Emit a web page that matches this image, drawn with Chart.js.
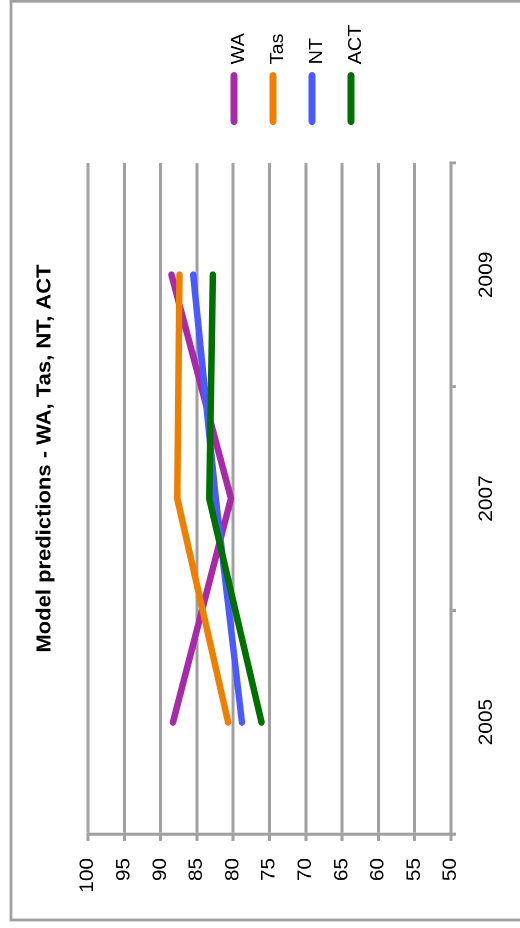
<!DOCTYPE html>
<html><head><meta charset="utf-8">
<script src="https://cdn.jsdelivr.net/npm/chart.js@4.4.1/dist/chart.umd.min.js"></script>
<style>
html,body{margin:0;padding:0;background:#fff;}
#stage{position:relative;width:520px;height:928px;overflow:hidden;background:#fff;}
#wrap{position:absolute;left:0;top:0;width:844px;height:520px;transform-origin:0 0;transform:translate(0,928px) rotate(-90deg) scaleX(1.09953);}
</style></head><body>
<div id="stage"><div id="wrap"><canvas id="c" width="844" height="520" style="width:844px;height:520px"></canvas></div></div>
<script>
// ---- data ----
const title = 'Model predictions - WA, Tas, NT, ACT';
const categories = ['2005', '2007', '2009'];
const seriesNames = ['WA', 'Tas', 'NT', 'ACT'];
const WA  = [88.3, 80.3, 88.5];
const Tas = [80.7, 87.7, 87.4];
const NT  = [78.8, 82.4, 85.5];
const ACT = [76.1, 83.3, 82.8];
const yMin = 50, yMax = 100, yStep = 5;

// ---- style ----
const colors = ['#A82AA8', '#EE8000', '#4A5AFF', '#007000'];
const gridColor = '#A0A0A0';
const FONT = '"Liberation Sans", Arial, Helvetica, sans-serif';
const seriesValues = [WA, Tas, NT, ACT];

const decor = {
  id: 'decor',
  afterDraw(chart) {
    const ctx = chart.ctx;
    ctx.save();
    ctx.strokeStyle = gridColor;
    ctx.lineWidth = 2.7;
    ctx.beginPath();
    ctx.moveTo(7.3, 600); ctx.lineTo(7.3, 11); ctx.lineTo(843, 11); ctx.lineTo(843, 600);
    ctx.stroke();
    ctx.fillStyle = '#000';
    ctx.font = 'bold 20px ' + FONT;
    ctx.textAlign = 'center';
    ctx.textBaseline = 'alphabetic';
    ctx.fillText(title, 427, 50.5);
    chart.data.datasets.forEach((ds, i) => {
      const v = 234 + 39 * i;
      ctx.strokeStyle = ds.borderColor;
      ctx.lineWidth = 7;
      ctx.lineCap = 'round';
      ctx.beginPath();
      ctx.moveTo(733.8, v); ctx.lineTo(775.0, v);
      ctx.stroke();
      ctx.fillStyle = '#000';
      ctx.font = '18px ' + FONT;
      ctx.textAlign = 'left';
      ctx.fillText(ds.label, 785.5, v + 9.8);
    });
    ctx.restore();
  }
};

function build() {
  new Chart(document.getElementById('c'), {
    type: 'line',
    data: {
      labels: categories,
      datasets: seriesNames.map((name, i) => ({
        label: name,
        data: seriesValues[i],
        borderColor: colors[i],
        backgroundColor: colors[i],
        borderWidth: 6.5,
        borderCapStyle: 'round',
        borderJoinStyle: 'miter',
        pointRadius: 0,
        tension: 0,
        fill: false,
        order: seriesNames.length - i
      }))
    },
    options: {
      responsive: false,
      devicePixelRatio: 2,
      animation: false,
      layout: { padding: { left: 0, top: 88, right: 148.3, bottom: 0 } },
      plugins: { legend: { display: false }, title: { display: false }, tooltip: { enabled: false } },
      scales: {
        x: {
          type: 'category',
          offset: true,
          afterFit: s => { s.height = 69; },
          grid: { offset: true, drawOnChartArea: false, drawTicks: true, tickLength: 5, lineWidth: 2.7, color: gridColor },
          border: { display: true, color: gridColor, width: 3 },
          ticks: { color: '#000', font: { family: FONT, size: 19 }, padding: 19.5, maxRotation: 0 }
        },
        y: {
          min: yMin, max: yMax,
          afterFit: s => { s.width = 85.5; },
          grid: { color: gridColor, lineWidth: 3, drawTicks: true, tickLength: 6.4 },
          border: { display: true, color: gridColor, width: 2.7 },
          ticks: { stepSize: yStep, color: '#000', font: { family: FONT, size: 19 }, padding: 15.4 }
        }
      }
    },
    plugins: [decor]
  });
}

Promise.all([
  document.fonts.load('17px "Liberation Sans"'),
  document.fonts.load('bold 18px "Liberation Sans"')
]).then(build, build);
</script>
</body></html>
